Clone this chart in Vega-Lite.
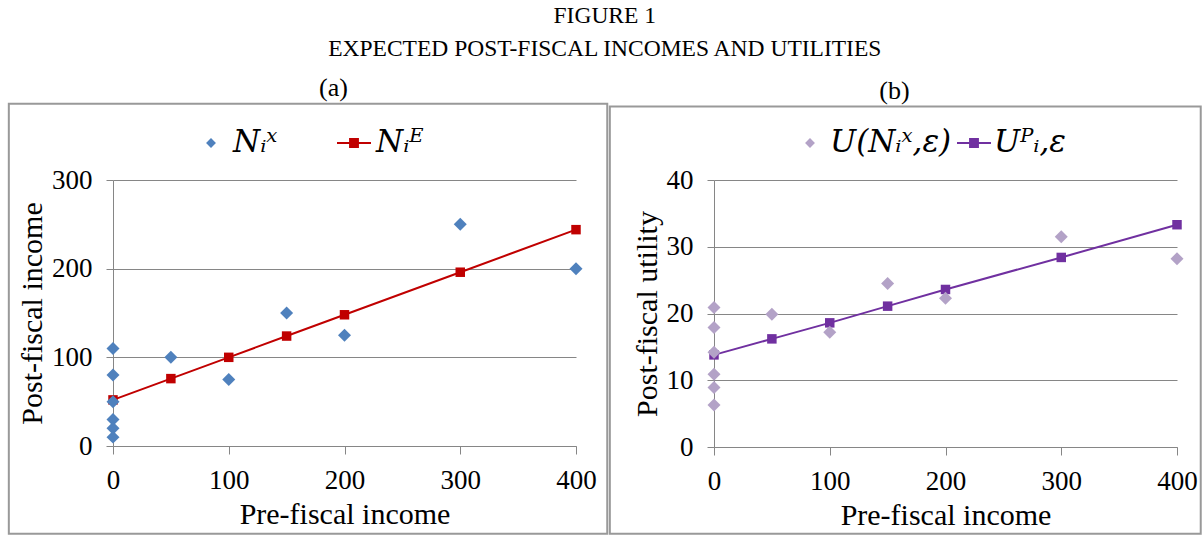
{
  "$schema": "https://vega.github.io/schema/vega-lite/v6.json",
  "padding": {"left": 7, "top": 4, "right": 0, "bottom": 0},
  "title": {
    "text": ["FIGURE 1", "EXPECTED POST-FISCAL INCOMES AND UTILITIES"],
    "font": "Liberation Serif",
    "fontSize": 23.5,
    "fontWeight": "normal",
    "lineHeight": 33,
    "color": "black",
    "anchor": "middle",
    "offset": 14
  },
  "datasets": {
    "aScatter": [
      {"pre": 0, "post": 110, "series": "Nᵢˣ"},
      {"pre": 0, "post": 80, "series": "Nᵢˣ"},
      {"pre": 0, "post": 50, "series": "Nᵢˣ"},
      {"pre": 0, "post": 30, "series": "Nᵢˣ"},
      {"pre": 0, "post": 20, "series": "Nᵢˣ"},
      {"pre": 0, "post": 10, "series": "Nᵢˣ"},
      {"pre": 50, "post": 100, "series": "Nᵢˣ"},
      {"pre": 100, "post": 75, "series": "Nᵢˣ"},
      {"pre": 150, "post": 150, "series": "Nᵢˣ"},
      {"pre": 200, "post": 125, "series": "Nᵢˣ"},
      {"pre": 300, "post": 250, "series": "Nᵢˣ"},
      {"pre": 400, "post": 200, "series": "Nᵢˣ"}
    ],
    "aLine": [
      {"pre": 0, "post": 52, "series": "Nᵢᴱ"},
      {"pre": 50, "post": 76, "series": "Nᵢᴱ"},
      {"pre": 100, "post": 100, "series": "Nᵢᴱ"},
      {"pre": 150, "post": 124, "series": "Nᵢᴱ"},
      {"pre": 200, "post": 148, "series": "Nᵢᴱ"},
      {"pre": 300, "post": 196, "series": "Nᵢᴱ"},
      {"pre": 400, "post": 244, "series": "Nᵢᴱ"}
    ],
    "bScatter": [
      {"pre": 0, "util": 20.9, "series": "U(Nᵢˣ,ε)"},
      {"pre": 0, "util": 17.9, "series": "U(Nᵢˣ,ε)"},
      {"pre": 0, "util": 14.2, "series": "U(Nᵢˣ,ε)"},
      {"pre": 0, "util": 10.9, "series": "U(Nᵢˣ,ε)"},
      {"pre": 0, "util": 8.9, "series": "U(Nᵢˣ,ε)"},
      {"pre": 0, "util": 6.3, "series": "U(Nᵢˣ,ε)"},
      {"pre": 50, "util": 19.9, "series": "U(Nᵢˣ,ε)"},
      {"pre": 100, "util": 17.2, "series": "U(Nᵢˣ,ε)"},
      {"pre": 150, "util": 24.5, "series": "U(Nᵢˣ,ε)"},
      {"pre": 200, "util": 22.3, "series": "U(Nᵢˣ,ε)"},
      {"pre": 300, "util": 31.5, "series": "U(Nᵢˣ,ε)"},
      {"pre": 400, "util": 28.2, "series": "U(Nᵢˣ,ε)"}
    ],
    "bLine": [
      {"pre": 0, "util": 13.8, "series": "Uᴾᵢ,ε"},
      {"pre": 50, "util": 16.2, "series": "Uᴾᵢ,ε"},
      {"pre": 100, "util": 18.6, "series": "Uᴾᵢ,ε"},
      {"pre": 150, "util": 21.1, "series": "Uᴾᵢ,ε"},
      {"pre": 200, "util": 23.6, "series": "Uᴾᵢ,ε"},
      {"pre": 300, "util": 28.4, "series": "Uᴾᵢ,ε"},
      {"pre": 400, "util": 33.3, "series": "Uᴾᵢ,ε"}
    ],
    "frame": [{}]
  },
  "spacing": -1,
  "hconcat": [
    {
      "title": {"text": "(a)", "font": "Liberation Serif", "fontSize": 26, "fontWeight": "normal", "color": "black", "anchor": "middle", "dx": -11, "offset": 2},
      "width": 463,
      "height": 266,
      "layer": [
        {
          "data": {"name": "frame"},
          "mark": {"type": "rect", "fill": "transparent", "stroke": "#999999", "strokeWidth": 2},
          "encoding": {
            "x": {"datum": -90, "type": "quantitative", "scale": {"domain": [0, 400], "nice": false, "zero": false},
              "axis": {"values": [0, 100, 200, 300, 400], "grid": false, "title": "Pre-fiscal income", "labelFlush": false,
                "domainColor": "#868686", "tickColor": "#868686", "tickSize": 8,
                "labelFont": "Liberation Serif", "labelFontSize": 27, "labelColor": "black", "labelPadding": 13,
                "titleFont": "Liberation Serif", "titleFontSize": 30, "titleFontWeight": "normal", "titleColor": "black", "titlePadding": 6}},
            "x2": {"datum": 427},
            "y": {"datum": -99, "type": "quantitative", "scale": {"domain": [0, 300], "nice": false, "zero": false},
              "axis": {"values": [0, 100, 200, 300], "grid": true, "gridColor": "#868686", "title": "Post-fiscal income", "labelFlush": false,
                "domainColor": "#868686", "tickColor": "#868686", "tickSize": 7,
                "labelFont": "Liberation Serif", "labelFontSize": 27, "labelColor": "black", "labelPadding": 14,
                "titleFont": "Liberation Serif", "titleFontSize": 30, "titleFontWeight": "normal", "titleColor": "black", "titlePadding": 4}},
            "y2": {"datum": 386}
          }
        },
        {
          "data": {"name": "aLine"},
          "mark": {"type": "line", "color": "#C00000", "strokeWidth": 2},
          "encoding": {
            "x": {"field": "pre", "type": "quantitative"},
            "y": {"field": "post", "type": "quantitative"}
          }
        },
        {
          "data": {"name": "aLine"},
          "mark": {"type": "point", "shape": "square", "filled": true, "opacity": 1, "size": 90, "color": "#C00000"},
          "encoding": {
            "x": {"field": "pre", "type": "quantitative"},
            "y": {"field": "post", "type": "quantitative"}
          }
        },
        {
          "data": {"name": "aScatter"},
          "mark": {"type": "point", "filled": true, "opacity": 1, "size": 2000},
          "encoding": {
            "x": {"field": "pre", "type": "quantitative"},
            "y": {"field": "post", "type": "quantitative"},
            "color": {"field": "series", "type": "nominal",
              "scale": {"domain": ["Nᵢˣ", "Nᵢᴱ"], "range": ["#4F81BD", "#C00000"]},
              "legend": {"orient": "none", "legendX": 80, "legendY": -55, "direction": "horizontal", "title": null,
                "symbolSize": 1156, "symbolOpacity": 1, "labelFont": "DejaVu Serif", "labelFontStyle": "italic", "labelFontSize": 31, "labelColor": "black",
                "labelOffset": 4, "columnPadding": 58, "labelLimit": 300,
                "encode": {"symbols": {"update": {"size": {"value": 1156}}}}}},
            "shape": {"field": "series", "type": "nominal",
              "scale": {"domain": ["Nᵢˣ", "Nᵢᴱ"], "range": ["M0,-0.29L0.29,0L0,0.29L-0.29,0Z", "M-1,-0.06H1V0.06H-1Z M-0.29,-0.29H0.29V0.29H-0.29Z"]},
              "legend": {"orient": "none", "legendX": 80, "legendY": -55, "direction": "horizontal", "title": null,
                "symbolSize": 1156, "symbolOpacity": 1, "labelFont": "DejaVu Serif", "labelFontStyle": "italic", "labelFontSize": 31, "labelColor": "black",
                "labelOffset": 4, "columnPadding": 58, "labelLimit": 300,
                "encode": {"symbols": {"update": {"size": {"value": 1156}}}}}}
          }
        }
      ]
    },
    {
      "title": {"text": "(b)", "font": "Liberation Serif", "fontSize": 26, "fontWeight": "normal", "color": "black", "anchor": "middle", "dx": -51, "offset": 2},
      "width": 463,
      "height": 267,
      "layer": [
        {
          "data": {"name": "frame"},
          "mark": {"type": "rect", "fill": "transparent", "stroke": "#999999", "strokeWidth": 2},
          "encoding": {
            "x": {"datum": -90, "type": "quantitative", "scale": {"domain": [0, 400], "nice": false, "zero": false},
              "axis": {"values": [0, 100, 200, 300, 400], "grid": false, "title": "Pre-fiscal income", "labelFlush": false,
                "domainColor": "#868686", "tickColor": "#868686", "tickSize": 8,
                "labelFont": "Liberation Serif", "labelFontSize": 27, "labelColor": "black", "labelPadding": 13,
                "titleFont": "Liberation Serif", "titleFontSize": 30, "titleFontWeight": "normal", "titleColor": "black", "titlePadding": 6}},
            "x2": {"datum": 420.5},
            "y": {"datum": -13, "type": "quantitative", "scale": {"domain": [0, 40], "nice": false, "zero": false},
              "axis": {"values": [0, 10, 20, 30, 40], "grid": true, "gridColor": "#868686", "title": "Post-fiscal utility", "labelFlush": false,
                "domainColor": "#868686", "tickColor": "#868686", "tickSize": 7,
                "labelFont": "Liberation Serif", "labelFontSize": 27, "labelColor": "black", "labelPadding": 14,
                "titleFont": "Liberation Serif", "titleFontSize": 30, "titleFontWeight": "normal", "titleColor": "black", "titlePadding": 4}},
            "y2": {"datum": 51}
          }
        },
        {
          "data": {"name": "bLine"},
          "mark": {"type": "line", "color": "#7030A0", "strokeWidth": 2},
          "encoding": {
            "x": {"field": "pre", "type": "quantitative"},
            "y": {"field": "util", "type": "quantitative"}
          }
        },
        {
          "data": {"name": "bLine"},
          "mark": {"type": "point", "shape": "square", "filled": true, "opacity": 1, "size": 90, "color": "#7030A0"},
          "encoding": {
            "x": {"field": "pre", "type": "quantitative"},
            "y": {"field": "util", "type": "quantitative"}
          }
        },
        {
          "data": {"name": "bScatter"},
          "mark": {"type": "point", "filled": true, "opacity": 1, "size": 2000},
          "encoding": {
            "x": {"field": "pre", "type": "quantitative"},
            "y": {"field": "util", "type": "quantitative"},
            "color": {"field": "series", "type": "nominal",
              "scale": {"domain": ["U(Nᵢˣ,ε)", "Uᴾᵢ,ε"], "range": ["#B3A2C7", "#7030A0"]},
              "legend": {"orient": "none", "legendX": 78, "legendY": -55, "direction": "horizontal", "title": null,
                "symbolSize": 1156, "symbolOpacity": 1, "labelFont": "DejaVu Serif", "labelFontStyle": "italic", "labelFontSize": 31, "labelColor": "black",
                "labelOffset": 2, "columnPadding": 4, "labelLimit": 300,
                "encode": {"symbols": {"update": {"size": {"value": 1156}}}}}},
            "shape": {"field": "series", "type": "nominal",
              "scale": {"domain": ["U(Nᵢˣ,ε)", "Uᴾᵢ,ε"], "range": ["M0,-0.29L0.29,0L0,0.29L-0.29,0Z", "M-1,-0.06H1V0.06H-1Z M-0.29,-0.29H0.29V0.29H-0.29Z"]},
              "legend": {"orient": "none", "legendX": 78, "legendY": -55, "direction": "horizontal", "title": null,
                "symbolSize": 1156, "symbolOpacity": 1, "labelFont": "DejaVu Serif", "labelFontStyle": "italic", "labelFontSize": 31, "labelColor": "black",
                "labelOffset": 2, "columnPadding": 4, "labelLimit": 300,
                "encode": {"symbols": {"update": {"size": {"value": 1156}}}}}}
          }
        }
      ]
    }
  ],
  "resolve": {"scale": {"color": "independent", "shape": "independent"}, "legend": {"color": "independent", "shape": "independent"}},
  "config": {
    "view": {"stroke": null},
    "background": "white"
  }
}
